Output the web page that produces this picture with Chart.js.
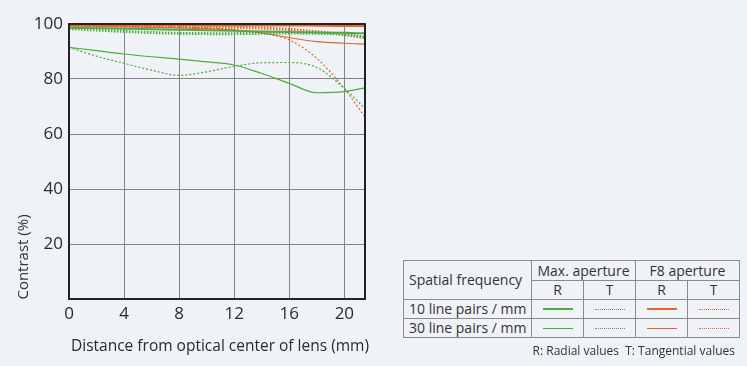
<!DOCTYPE html>
<html>
<head>
<meta charset="utf-8">
<script src="https://cdn.jsdelivr.net/npm/chart.js@4/dist/chart.umd.min.js"></script>
<style>
  html, body { margin: 0; padding: 0; background: #eff2f7; }
  body { width: 747px; height: 366px; position: relative; overflow: hidden; font-family: "Open Sans", sans-serif; color: #2b2b2b; }
  #wrap { position: absolute; left: 0; top: 0; width: 380px; height: 366px; }
  #xtitle { position: absolute; left: 60px; top: 334px; width: 320px; text-align: center; font-size: 15.5px; white-space: nowrap; }
  #ytitle { position: absolute; left: -38px; top: 247px; width: 120px; height: 20px; line-height: 20px; text-align: center; transform: rotate(-90deg); font-size: 15px; white-space: nowrap; color: #333; }
  table { position: absolute; left: 403px; top: 260px; border-collapse: collapse; font-size: 14px; color: #333; }
  td { border: 1px solid #8a8a8a; padding: 0; text-align: center; height: 18px; line-height: 16px; }
  td.lab { text-align: left; padding-left: 5px; width: 122px; }
  td.c { width: 51px; }
  .ln { width: 30px; margin: 0 auto; height: 0; }
  #note { position: absolute; right: 12px; top: 342px; font-size: 12px; color: #333; }
</style>
</head>
<body>
<div id="wrap"><canvas id="mtf"></canvas></div>
<div id="xtitle">Distance from optical center of lens (mm)</div>
<div id="ytitle">Contrast (%)</div>
<table>
  <tr><td class="lab" rowspan="2" style="height:36px">Spatial frequency</td><td colspan="2" style="height:19px">Max. aperture</td><td colspan="2">F8 aperture</td></tr>
  <tr><td class="c">R</td><td class="c">T</td><td class="c">R</td><td class="c">T</td></tr>
  <tr><td class="lab">10 line pairs / mm</td>
    <td><div class="ln" style="border-top:2px solid #4eab3e"></div></td>
    <td><div class="ln" style="border-top:1.5px dotted #4eab3e"></div></td>
    <td><div class="ln" style="border-top:2px solid #e6652c"></div></td>
    <td><div class="ln" style="border-top:1.5px dotted #e6652c"></div></td></tr>
  <tr><td class="lab">30 line pairs / mm</td>
    <td><div class="ln" style="border-top:1px solid #4eab3e"></div></td>
    <td><div class="ln" style="border-top:1px dotted #4eab3e"></div></td>
    <td><div class="ln" style="border-top:1px solid #e6652c"></div></td>
    <td><div class="ln" style="border-top:1px dotted #e6652c"></div></td></tr>
</table>
<div id="note">R: Radial values&nbsp;&nbsp;T: Tangential values</div>
<script>
// distance from optical centre (mm)
var distance = [0, 2, 4, 6, 8, 10, 12, 14, 16, 18, 20, 21.5];

// 10 line pairs / mm
var max10R = [98.6, 98.5, 98.3, 98.1, 97.9, 97.7, 97.5, 97.3, 97.1, 96.9, 96.8, 96.6];
var max10T = [98.3, 97.8, 97.3, 96.9, 96.6, 96.5, 96.5, 96.6, 96.7, 96.6, 96.2, 95.0];
var f8_10R = [99.6, 99.6, 99.6, 99.6, 99.6, 99.5, 99.5, 99.5, 99.5, 99.4, 99.3, 99.2];
var f8_10T = [99.3, 99.3, 99.3, 99.2, 99.1, 99.0, 98.8, 98.5, 98.0, 97.2, 96.2, 95.2];

// 30 line pairs / mm
var max30R = [91.5, 90.3, 89.1, 88.1, 87.2, 86.2, 85.1, 82.0, 78.4, 75.0, 75.4, 76.8];
var max30T = [91.5, 88.3, 85.7, 83.2, 81.3, 82.6, 84.6, 85.9, 86.0, 84.2, 76.6, 69.3];
var f8_30R = [99.3, 99.2, 99.0, 98.8, 98.6, 98.3, 97.8, 96.8, 95.0, 93.6, 93.0, 92.7];
var f8_30T = [99.2, 99.2, 99.1, 99.0, 98.9, 98.6, 98.0, 96.8, 94.2, 87.5, 76.5, 66.2];

var xTicks = [0, 4, 8, 12, 16, 20];
var yTicks = [20, 40, 60, 80, 100];

var green = '#4eab3e';
var orange = '#e6652c';

function pts(vals) {
  return vals.map(function (v, i) { return { x: distance[i], y: v }; });
}

function line(vals, color, width, dash) {
  return {
    data: pts(vals),
    borderColor: color,
    borderWidth: width,
    borderDash: dash,
    pointRadius: 0,
    cubicInterpolationMode: 'monotone',
    fill: false
  };
}

var frame = {
  id: 'frame',
  afterDraw: function (chart) {
    var a = chart.chartArea, c = chart.ctx;
    c.save();
    c.strokeStyle = '#222';
    c.lineWidth = 2;
    c.strokeRect(a.left, a.top, a.right - a.left, a.bottom - a.top);
    c.restore();
  }
};

var ctx = document.getElementById('mtf').getContext('2d');
var mtfChart = new Chart(ctx, {
  type: 'line',
  data: {
    datasets: [
      line(max10R, green, 2, []),
      line(max10T, green, 3, [1.5, 1.5]),
      line(max30R, green, 1.2, []),
      line(max30T, green, 1.2, [2, 2]),
      line(f8_10R, orange, 2, []),
      line(f8_10T, orange, 3, [1.5, 1.5]),
      line(f8_30R, orange, 1.2, []),
      line(f8_30T, orange, 1.2, [2, 2])
    ]
  },
  options: {
    responsive: true,
    maintainAspectRatio: false,
    animation: false,
    layout: { padding: { left: 0, right: 15, top: 24, bottom: 0 } },
    scales: {
      x: {
        type: 'linear',
        min: 0,
        max: 21.5,
        afterFit: function (s) { s.height = 67; },
        afterBuildTicks: function (s) { s.ticks = xTicks.map(function (v) { return { value: v }; }); },
        grid: { color: '#858585', lineWidth: 1, drawTicks: false },
        border: { display: false },
        ticks: { padding: 5, color: '#2b2b2b', font: { family: 'Open Sans', size: 17 } }
      },
      y: {
        min: 0,
        max: 100,
        afterFit: function (s) { s.width = 69; },
        afterBuildTicks: function (s) { s.ticks = yTicks.map(function (v) { return { value: v }; }); },
        grid: { color: '#858585', lineWidth: 1, drawTicks: false },
        border: { display: false },
        ticks: { padding: 6, color: '#2b2b2b', font: { family: 'Open Sans', size: 17 } }
      }
    },
    plugins: {
      legend: { display: false },
      tooltip: { enabled: false }
    }
  },
  plugins: [frame]
});
</script>
</body>
</html>
